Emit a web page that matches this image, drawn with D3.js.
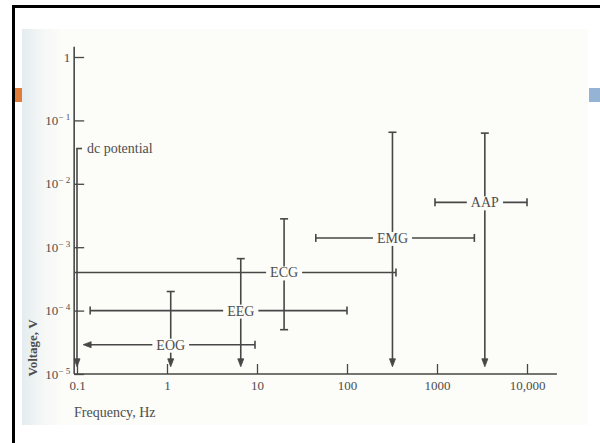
<!DOCTYPE html>
<html>
<head>
<meta charset="utf-8">
<script src="https://cdn.jsdelivr.net/npm/d3@7"></script>
<style>
  html, body { margin: 0; padding: 0; background: white; }
  svg { display: block; }
</style>
</head>
<body>
<div id="chart"></div>
<script>

// tick values and labels
var xTicks = [0.1, 1, 10, 100, 1000, 10000];
var xTickLabels = ['0.1', '1', '10', '100', '1000', '10,000'];
var yTicks = [1, 1e-1, 1e-2, 1e-3, 1e-4, 1e-5];
var yTickExp = [0, 1, 2, 3, 4, 5];

// signals (cross shaped ranges)
var signals   = ['EOG', 'EEG', 'ECG', 'EMG', 'AAP'];
var freqLow   = [0.117, 0.14, 0.095, 45, 950];
var freqHigh  = [9.5, 100, 350, 2600, 10000];
var freqMid   = [1.1, 6.6, 20, 320, 3400];
var voltLow   = [1.3e-5, 1.3e-5, 5e-5, 1.3e-5, 1.3e-5];
var voltHigh  = [2e-4, 6.6e-4, 2.8e-3, 0.065, 0.063];
var voltMid   = [2.9e-5, 1e-4, 4e-4, 1.4e-3, 5.1e-3];
var leftEnd   = ['arrow', 'cap', 'none', 'cap', 'cap'];
var bottomEnd = ['arrow', 'arrow', 'cap', 'arrow', 'arrow'];

// dc potential
var dcFreq = 0.1;
var dcVolt = [1.3e-5, 0.036];

// axis extents
var xExtent = [0.093, 21500];
var yExtent = [1e-5, 1.45];

var width = 600, height = 443;
var ink = '#474747';
var text_color = '#4d4d4d';
var paper = '#fcfcf8';
var font = '"Liberation Serif", "Times New Roman", serif';

var svg = d3.select('#chart')
  .append('svg')
  .attr('width', width)
  .attr('height', height);

// slide frame + scanned page background
var defs = svg.append('defs');
var grad = defs.append('linearGradient')
  .attr('id', 'scan-edge')
  .attr('x1', 0).attr('x2', 1).attr('y1', 0).attr('y2', 0);
grad.append('stop').attr('offset', '0%').attr('stop-color', '#e4ecf0');
grad.append('stop').attr('offset', '4%').attr('stop-color', '#f6f8f6');
grad.append('stop').attr('offset', '7%').attr('stop-color', paper);
grad.append('stop').attr('offset', '100%').attr('stop-color', paper);

svg.append('rect')
  .attr('x', 22).attr('y', 29)
  .attr('width', 566).attr('height', 396)
  .style('fill', 'url(#scan-edge)');

svg.append('rect')
  .attr('x', 15).attr('y', 88)
  .attr('width', 7).attr('height', 14)
  .style('fill', '#e07c3a');

svg.append('rect')
  .attr('x', 589).attr('y', 88)
  .attr('width', 11).attr('height', 14)
  .style('fill', '#95b3d4');

svg.append('line')
  .attr('x1', 13.5).attr('x2', 13.5)
  .attr('y1', 5).attr('y2', height)
  .style('stroke', 'black').style('stroke-width', 3);

svg.append('line')
  .attr('x1', 12).attr('x2', width)
  .attr('y1', 6.5).attr('y2', 6.5)
  .style('stroke', 'black').style('stroke-width', 3);

// scales
var x = d3.scaleLog().domain([0.1, 10000]).range([77, 527]);
var y = d3.scaleLog().domain([1e-5, 1]).range([374, 57]);

// axis lines
svg.append('line')
  .attr('x1', x(xExtent[0])).attr('x2', x(xExtent[1]))
  .attr('y1', y(yExtent[0])).attr('y2', y(yExtent[0]))
  .style('stroke', ink).style('stroke-width', 1.6);

svg.append('line')
  .attr('x1', x(xExtent[0])).attr('x2', x(xExtent[0]))
  .attr('y1', y(yExtent[0])).attr('y2', y(yExtent[1]))
  .style('stroke', ink).style('stroke-width', 1.6);

// x axis
var x_axis = svg.append('g')
  .attr('transform', 'translate(0,' + y(yExtent[0]) + ')')
  .call(d3.axisBottom(x)
    .tickValues(xTicks)
    .tickSize(-10)
    .tickSizeOuter(0)
    .tickPadding(7)
    .tickFormat(function(d, i){ return xTickLabels[i]; }));

x_axis.select('.domain').remove();
x_axis.selectAll('.tick line').style('stroke', ink).style('stroke-width', 1.3);
x_axis.selectAll('.tick text')
  .style('font-family', font)
  .style('font-size', '13px')
  .style('fill', text_color);

// y axis
var y_axis = svg.append('g')
  .attr('transform', 'translate(' + x(xExtent[0]) + ',0)')
  .call(d3.axisLeft(y)
    .tickValues(yTicks)
    .tickSize(-10)
    .tickSizeOuter(0)
    .tickPadding(4)
    .tickFormat(function(){ return ''; }));

y_axis.select('.domain').remove();
y_axis.selectAll('.tick line').style('stroke', ink).style('stroke-width', 1.3);
y_axis.selectAll('.tick text')
  .style('font-family', font)
  .style('font-size', '13px')
  .style('fill', text_color)
  .each(function(d, i){
    var t = d3.select(this);
    if (yTickExp[i] === 0){
      t.append('tspan').text('1');
    } else {
      t.append('tspan').text('10');
      t.append('tspan')
        .attr('dy', '-5')
        .style('font-size', '9px')
        .text('\u2212 ' + yTickExp[i]);
    }
  });

// axis titles
svg.append('text')
  .text('Frequency, Hz')
  .attr('x', 74)
  .attr('y', 417)
  .style('font-family', font)
  .style('font-size', '14px')
  .style('fill', text_color);

svg.append('text')
  .text('Voltage, V')
  .attr('text-anchor', 'middle')
  .attr('transform', 'translate(37,348) rotate(-90)')
  .style('font-family', font)
  .style('font-size', '13px')
  .style('font-weight', 'bold')
  .style('fill', text_color);

// marks
var marks = svg.append('g')
  .style('stroke', ink)
  .style('stroke-width', 1.6)
  .style('fill', 'none');

var cap = 4;

function down_arrow(g, cx, tip){
  g.append('path')
    .attr('d', 'M' + (cx - 3) + ',' + (tip - 8) + 'L' + (cx + 3) + ',' + (tip - 8) + 'L' + cx + ',' + tip + 'Z')
    .style('fill', ink)
    .style('stroke-width', 0.8);
}

// dc potential
var dc_x = x(dcFreq);
marks.append('line')
  .attr('x1', dc_x).attr('x2', dc_x)
  .attr('y1', y(dcVolt[1])).attr('y2', y(dcVolt[0]) - 6);
marks.append('line')
  .attr('x1', dc_x - 0.8).attr('x2', dc_x + 5)
  .attr('y1', y(dcVolt[1])).attr('y2', y(dcVolt[1]));
down_arrow(marks, dc_x, y(dcVolt[0]));

svg.append('text')
  .text('dc potential')
  .attr('x', dc_x + 10)
  .attr('y', y(dcVolt[1]) + 4)
  .style('font-family', font)
  .style('font-size', '14px')
  .style('fill', text_color);

signals.forEach(function(name, i){

  var xl = x(freqLow[i]), xh = x(freqHigh[i]), xm = x(freqMid[i]);
  var yl = y(voltLow[i]), yh = y(voltHigh[i]), ym = y(voltMid[i]);
  var g = marks.append('g').classed('signal-' + name, true);

  // horizontal range
  g.append('line')
    .attr('x1', leftEnd[i] === 'arrow' ? xl + 6 : xl)
    .attr('x2', xh)
    .attr('y1', ym).attr('y2', ym);

  if (leftEnd[i] === 'cap'){
    g.append('line')
      .attr('x1', xl).attr('x2', xl)
      .attr('y1', ym - cap).attr('y2', ym + cap);
  } else if (leftEnd[i] === 'arrow'){
    g.append('path')
      .attr('d', 'M' + (xl + 8) + ',' + (ym - 3) + 'L' + (xl + 8) + ',' + (ym + 3) + 'L' + xl + ',' + ym + 'Z')
      .style('fill', ink)
      .style('stroke-width', 0.8);
  }

  g.append('line')
    .attr('x1', xh).attr('x2', xh)
    .attr('y1', ym - cap).attr('y2', ym + cap);

  // vertical range
  g.append('line')
    .attr('x1', xm).attr('x2', xm)
    .attr('y1', yh)
    .attr('y2', bottomEnd[i] === 'arrow' ? yl - 6 : yl);

  g.append('line')
    .attr('x1', xm - cap).attr('x2', xm + cap)
    .attr('y1', yh).attr('y2', yh);

  if (bottomEnd[i] === 'cap'){
    g.append('line')
      .attr('x1', xm - cap).attr('x2', xm + cap)
      .attr('y1', yl).attr('y2', yl);
  } else {
    down_arrow(g, xm, yl);
  }

  // label sitting on the crossing
  var label_box = svg.append('rect').style('fill', paper);
  var label = svg.append('text')
    .text(name)
    .attr('x', xm)
    .attr('y', ym + 5)
    .attr('text-anchor', 'middle')
    .style('font-family', font)
    .style('font-size', '14px')
    .style('fill', text_color);

  var bb = label.node().getBBox();
  label_box
    .attr('x', bb.x - 4)
    .attr('y', bb.y + 1)
    .attr('width', bb.width + 8)
    .attr('height', bb.height - 1);
});

</script>
</body>
</html>
